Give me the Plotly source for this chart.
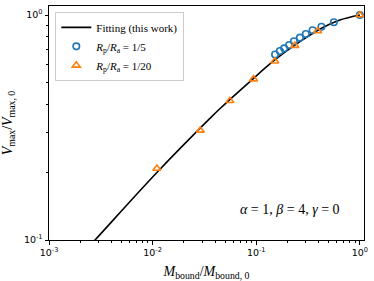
import plotly.graph_objects as go

# Fitting curve
fit_x = [0.0020, 0.00278, 0.01094, 0.0357, 0.0440, 0.0869, 0.151, 0.264, 0.426, 0.641, 1.0]
fit_y = [0.085, 0.100, 0.199, 0.347, 0.381, 0.506, 0.631, 0.761, 0.873, 0.950, 1.0]

# Rp/Ra = 1/5 (blue circles)
b_x = [0.152, 0.169, 0.186, 0.208, 0.231, 0.264, 0.301, 0.350, 0.426, 0.561, 1.0]
b_y = [0.668, 0.692, 0.711, 0.736, 0.764, 0.793, 0.823, 0.855, 0.887, 0.928, 1.0]

# Rp/Ra = 1/20 (orange triangles)
o_x = [0.0110, 0.0289, 0.0557, 0.0942, 0.151, 0.236, 0.391, 1.0]
o_y = [0.208, 0.307, 0.416, 0.519, 0.623, 0.731, 0.849, 1.0]

# Tick labels
x_tickvals = [0.001, 0.01, 0.1, 1.0]
x_ticktext = ["10<sup>-3</sup>", "10<sup>-2</sup>", "10<sup>-1</sup>", "10<sup>0</sup>"]
y_tickvals = [0.1, 1.0]
y_ticktext = ["10<sup>-1</sup>", "10<sup>0</sup>"]
x_minor = [m * d for d in [0.001, 0.01, 0.1] for m in range(2, 10)]
y_minor = [m * 0.1 for m in range(2, 10)]

serif = "Liberation Serif, DejaVu Serif, serif"

fig = go.Figure()
fig.add_trace(go.Scatter(x=fit_x, y=fit_y, mode="lines", line=dict(color="black", width=1.6, shape="spline"),
                         name="Fitting (this work)"))
fig.add_trace(go.Scatter(x=b_x, y=b_y, mode="markers",
                         marker=dict(symbol="circle-open", size=6.5, color="#1f77b4", line=dict(width=1.6)),
                         name="<i>R</i><sub>p</sub>/<i>R</i><sub>a</sub> = 1/5"))
fig.add_trace(go.Scatter(x=o_x, y=o_y, mode="markers",
                         marker=dict(symbol="triangle-up-open", size=7, color="#ff7f0e", line=dict(width=1.6)),
                         name="<i>R</i><sub>p</sub>/<i>R</i><sub>a</sub> = 1/20"))

fig.add_annotation(x=0.93, y=0.13, xref="paper", yref="paper", xanchor="right", yanchor="middle",
                   text="<i>α</i> = 1, <i>β</i> = 4, <i>γ</i> = 0", showarrow=False,
                   font=dict(family=serif, size=14, color="black"))

def axis_common(tv, tt, mv):
    return dict(type="log", tickmode="array", tickvals=tv, ticktext=tt,
                showline=True, linecolor="black", linewidth=1, mirror=True,
                ticks="outside", ticklen=3.5, tickwidth=1, tickcolor="black",
                showgrid=False, zeroline=False, automargin=False,
                tickfont=dict(family="DejaVu Sans, sans-serif", size=9.5, color="black"),
                minor=dict(tickmode="array", tickvals=mv, ticks="outside", ticklen=2,
                           tickwidth=0.7, tickcolor="black", showgrid=False))

fig.update_xaxes(**axis_common(x_tickvals, x_ticktext, x_minor), range=[-3, 0.04],
                 title=dict(text="<i>M</i><sub>bound</sub>/<i>M</i><sub>bound, 0</sub>",
                            font=dict(family=serif, size=14, color="black")))
fig.update_yaxes(**axis_common(y_tickvals, y_ticktext, y_minor), range=[-1, 0.04],
                 title=dict(text="<i>V</i><sub>max</sub>/<i>V</i><sub>max, 0</sub>",
                            font=dict(family=serif, size=14, color="black")))

fig.update_layout(
    width=374, height=281,
    margin=dict(l=49, r=10, t=6, b=41, autoexpand=False),
    plot_bgcolor="white", paper_bgcolor="white",
    legend=dict(x=0.02, y=0.975, xanchor="left", yanchor="top",
                bgcolor="rgba(255,255,255,0.8)", bordercolor="#cccccc", borderwidth=1,
                font=dict(family=serif, size=11, color="black"), tracegroupgap=0, itemwidth=30),
    showlegend=True,
)

fig.write_html("out.html", config={"displayModeBar": False},
               post_script="document.body.style.margin='0';")
